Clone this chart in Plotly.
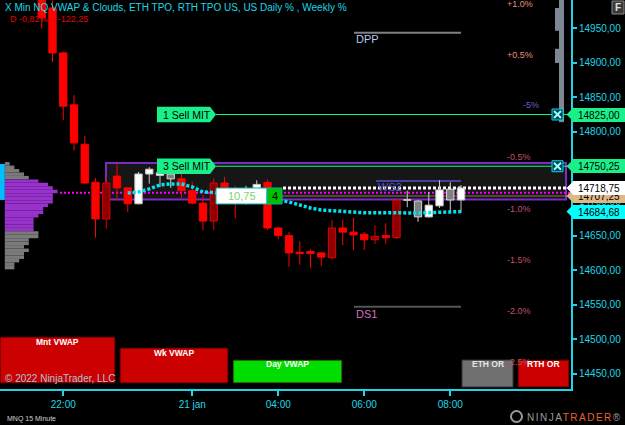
import plotly.graph_objects as go

# ---------------- data ----------------
bar_index = list(range(40))
bar_open = [15000, 14979, 14914, 14839, 14782, 14727, 14674, 14736, 14719, 14696,
            14739, 14737, 14739, 14732, 14715, 14697, 14671, 14726, 14716, 14700,
            14718, 14727, 14661, 14650, 14626, 14627, 14625, 14618, 14661, 14655,
            14652, 14644, 14650, 14647, 14701, 14700, 14677, 14693, 14717, 14701.5]
bar_high = [15005, 14990, 14916, 14853, 14794, 14733, 14734, 14753, 14720, 14742,
            14749, 14750, 14741, 14741, 14728, 14709, 14733, 14735, 14722, 14722,
            14730, 14731, 14663, 14655, 14642, 14630, 14626, 14673, 14673, 14676,
            14655, 14665, 14668, 14703, 14715, 14701, 14713, 14730, 14727, 14723]
bar_low = [14949, 14901, 14817, 14773, 14724, 14647, 14660, 14701, 14684, 14695,
           14725, 14720, 14719, 14704, 14695, 14658, 14658, 14712, 14675, 14695,
           14708, 14658, 14645, 14605, 14608, 14603, 14606, 14615, 14636, 14629,
           14629, 14638, 14638, 14645, 14691, 14670, 14676, 14690, 14683, 14683]
bar_close = [14965, 14914, 14837, 14784, 14726, 14674, 14726, 14719, 14696, 14739,
             14746, 14741, 14732, 14715, 14697, 14671, 14726, 14716, 14700, 14718,
             14724, 14661, 14650, 14625, 14624, 14624, 14619, 14661, 14655, 14651,
             14644, 14649, 14647, 14701, 14702, 14677, 14694, 14716, 14701.5, 14718.75]
bar_style = ["red"] * 6 + [
    "darkred", "red", "red", "white", "white", "white", "gray", "red", "red", "red",
    "darkred", "red", "red", "white", "white", "red", "red", "red", "red", "red",
    "red", "darkred", "red", "red", "red", "darkred", "red", "darkred", "white", "gray",
    "white", "white", "gray", "white"]

time_tick_index = [2, 14, 22, 30, 38]
time_tick_text = ["22:00", "21 jan", "04:00", "06:00", "08:00"]

price_ticks = [14450, 14500, 14550, 14600, 14650, 14700, 14750, 14800, 14850, 14900, 14950]
price_tick_text = ["14450,00", "14500,00", "14550,00", "14600,00", "14650,00", "14700,00",
                   "14750,00", "14800,00", "14850,00", "14900,00", "14950,00"]

vwap_index = list(range(8, 40))
vwap_value = [14711.6, 14713.0, 14717.4, 14723.2, 14724.6, 14724.6, 14720.3, 14713.0,
              14712.3, 14710.2, 14708.0, 14705.8, 14704.4, 14702.9, 14701.5, 14698.6,
              14694.3, 14689.9, 14687.0, 14685.6, 14684.3, 14684.0, 14683.0, 14682.7,
              14682.5, 14682.5, 14682.6, 14682.8, 14683.2, 14683.8, 14684.3, 14684.7]

# ETH TPO profile (rows of 5 points, from the top)
profile_top = 14756.25
profile_row = 5.0
profile_count = [1, 2, 3, 4, 5, 7, 9, 10, 11, 10, 10, 10, 9, 8, 8, 7, 6, 6, 6, 6,
                 7, 7, 5, 5, 4, 5, 4, 4, 3, 2, 2]
profile_in_va = [False] * 5 + [True] * 15 + [False] * 11
ib_low, ib_high = 14701.5, 14753.5

va_high, va_low = 14755.0, 14702.0
poc_price = 14712.0
last_price = 14718.75
avg_price = 14707.25
vwap_last = 14684.68
sell_mit_1 = 14825.00
sell_mit_3 = 14750.25
pnl_text, qty_text = "10,75", "4"

daily_pct_text = ["+1.0%", "+0.5%", "-0.5%", "-1.0%", "-1.5%", "-2.0%", "-2.5%"]
daily_pct_price = [14984.7, 14911.0, 14763.6, 14688.5, 14614.8, 14541.1, 14467.4]
weekly_pct_text = ["-5%"]
weekly_pct_price = [14838.8]

pivot_name = ["DPP", "DS1", "WS2"]
pivot_price = [14943.0, 14547.0, 14729.0]
pivot_text_price = [14934.0, 14537.0, 14720.0]

weekly_bar_main = (14814.0, 14990.5)
weekly_bar_small = [(14946.0, 14979.0), (14899.5, 14920.0)]

# ---------------- geometry helpers ----------------
W, H = 625, 425
PW, PH = 571, 389
Y_TOP, Y_BOT = 14990.5, 14428.3
PT = PH / (Y_TOP - Y_BOT)       # px per point
BAR_PX = 10.75
X0_PX = 41.75
x_lo = -X0_PX / BAR_PX
x_hi = (PW - X0_PX) / BAR_PX


def px(x):
    return x / PW


def py(y):
    return 1 - y / PH


CYAN = "#1fd6e6"
FONT = "Liberation Sans, Arial, sans-serif"

fig = go.Figure()

# profile
row_price = [profile_top - profile_row * (k + 0.5) for k in range(len(profile_count))]
fig.add_trace(go.Bar(orientation="h", x=profile_count, y=row_price, base=1, width=profile_row,
                     marker=dict(color=["#9932cc" if v else "#7a7a7a" for v in profile_in_va],
                                 line=dict(width=0)),
                     xaxis="x2", yaxis="y", hoverinfo="skip", showlegend=False))
fig.add_trace(go.Bar(orientation="h", x=[1], y=[(ib_low + ib_high) / 2], base=0,
                     width=ib_high - ib_low, marker=dict(color="#00bfff", line=dict(width=0)),
                     xaxis="x2", yaxis="y", hoverinfo="skip", showlegend=False))

# candles: wicks (scatter segments) + bodies (bars)
style_colors = {
    "red": ("#ff0000", "#ff0000"),
    "darkred": ("#8b0000", "#e00000"),
    "white": ("#ffffff", "#c8c8c8"),
    "gray": ("#808080", "#d8d8d8"),
}
for st, (fill, line) in style_colors.items():
    wx, wy = [], []
    for i, s in enumerate(bar_style):
        if s != st:
            continue
        top = max(bar_open[i], bar_close[i])
        bot = min(bar_open[i], bar_close[i])
        wx += [bar_index[i], bar_index[i], None, bar_index[i], bar_index[i], None]
        wy += [bar_high[i], top, None, bot, bar_low[i], None]
    fig.add_trace(go.Scatter(x=wx, y=wy, mode="lines", line=dict(color=line, width=1),
                             hoverinfo="skip", showlegend=False))

body_base = [min(o, c) for o, c in zip(bar_open, bar_close)]
body_len = [abs(c - o) for o, c in zip(bar_open, bar_close)]
fig.add_trace(go.Bar(x=bar_index, y=body_len, base=body_base, width=0.68,
                     marker=dict(color=[style_colors[s][0] for s in bar_style],
                                 line=dict(color=[style_colors[s][1] for s in bar_style], width=1)),
                     hoverinfo="skip", showlegend=False))

# vwap
fig.add_trace(go.Scatter(x=vwap_index, y=vwap_value, mode="lines",
                         line=dict(color="#00e5ee", width=3.5, dash="3px,2px"),
                         hoverinfo="skip", showlegend=False))

shapes = []
ann = []


def text(x, y, t, color, size, xref="paper", yref="paper", xa="left", ya="middle", **kw):
    d = dict(xref=xref, yref=yref, x=x, y=y, text=t, showarrow=False, xanchor=xa, yanchor=ya,
             font=dict(color=color, size=size, family=FONT))
    d.update(kw)
    ann.append(d)


# value area box
shapes.append(dict(type="rect", xref="paper", yref="y", x0=px(106), x1=px(566), y0=va_low, y1=va_high,
                   fillcolor="#161616", line=dict(color="#7b2cc4", width=2), layer="below"))
shapes.append(dict(type="line", xref="paper", yref="y", x0=px(282), x1=1, y0=avg_price, y1=avg_price,
                   line=dict(color="#8b7b55", width=1), layer="below"))
shapes.append(dict(type="line", xref="paper", yref="y", x0=px(60), x1=1, y0=poc_price, y1=poc_price,
                   line=dict(color="#ff00ff", width=2, dash="2px,2px"), layer="below"))
shapes.append(dict(type="line", xref="paper", yref="y", x0=px(283), x1=1, y0=last_price, y1=last_price,
                   line=dict(color="#ffffff", width=3, dash="3px,2px"), layer="below"))
for p in (sell_mit_1, sell_mit_3):
    shapes.append(dict(type="line", xref="paper", yref="y", x0=px(216), x1=1, y0=p, y1=p,
                       line=dict(color="#00ff7f", width=1), layer="below"))

# pivots
piv_x = [(354, 461), (354, 461), (376, 461)]
piv_line_col = ["#808080", "#555555", "#4b3f9e"]
piv_text_col = ["#b8c8f0", "#d870c0", "#5050d0"]
for name, p, tp, (a, b), lc, tc in zip(pivot_name, pivot_price, pivot_text_price, piv_x, piv_line_col, piv_text_col):
    shapes.append(dict(type="line", xref="paper", yref="y", x0=px(a), x1=px(b), y0=p, y1=p,
                       line=dict(color=lc, width=2), layer="below"))
    text(px(a), tp, name, tc, 11, yref="y")

# weekly gray bars at the right
shapes.append(dict(type="rect", xref="paper", yref="y", x0=px(559), x1=px(564),
                   y0=weekly_bar_main[0], y1=weekly_bar_main[1], fillcolor="#7d8893",
                   line=dict(width=0), layer="below"))
for lo, hi in weekly_bar_small:
    shapes.append(dict(type="rect", xref="paper", yref="y", x0=px(555), x1=px(559), y0=lo, y1=hi,
                       fillcolor="#7d8893", line=dict(width=0), layer="below"))

# sell MIT labels
h = 7.7 / PT
for p, t in ((sell_mit_1, "1 Sell MIT"), (sell_mit_3, "3 Sell MIT")):
    path = (f"M {px(157)},{p + h} L {px(210)},{p + h} L {px(216)},{p} "
            f"L {px(210)},{p - h} L {px(157)},{p - h} Z")
    shapes.append(dict(type="path", xref="paper", yref="y", path=path, fillcolor="#19f08a",
                       line=dict(width=0)))
    text(px(161), p, t, "#000000", 10.5, yref="y")

# X icons
for p in (sell_mit_1, sell_mit_3):
    hh = 5.5 / PT
    shapes.append(dict(type="rect", xref="paper", yref="y", x0=px(552), x1=px(563), y0=p - hh, y1=p + hh,
                       fillcolor="#004450", line=dict(color="#00d8e8", width=1)))
    d = 3.5 / PT
    shapes.append(dict(type="line", xref="paper", yref="y", x0=px(554), x1=px(561), y0=p - d, y1=p + d,
                       line=dict(color="#a0ffff", width=2)))
    shapes.append(dict(type="line", xref="paper", yref="y", x0=px(554), x1=px(561), y0=p + d, y1=p - d,
                       line=dict(color="#a0ffff", width=2)))

# PnL label on average price
hp = 8 / PT
shapes.append(dict(type="rect", xref="paper", yref="y", x0=px(216), x1=px(267), y0=avg_price - hp,
                   y1=avg_price + hp, fillcolor="#ffffff", line=dict(color="#00b0b0", width=1)))
shapes.append(dict(type="rect", xref="paper", yref="y", x0=px(267), x1=px(282), y0=avg_price - hp,
                   y1=avg_price + hp, fillcolor="#00c000", line=dict(color="#00b0b0", width=1)))
text(px(241.5), avg_price, pnl_text, "#80d070", 11, yref="y", xa="center")
text(px(274.5), avg_price, qty_text, "#000000", 11, yref="y", xa="center")

# percent labels
for t, p in zip(daily_pct_text, daily_pct_price):
    col = "#e6907a" if t.startswith("+") else "#c0506a"
    text(px(505), p, t, col, 9, yref="y")
for t, p in zip(weekly_pct_text, weekly_pct_price):
    text(px(521), p, t, "#6060d0", 9, yref="y")

# right axis price markers
markers = [(avg_price, "#deb887", "14707,25"), (last_price, "#ffffff", "14718,75"),
           (vwap_last, "#00ffff", "14684,68"), (sell_mit_1, "#19f08a", "14825,00"),
           (sell_mit_3, "#19f08a", "14750,25")]
hm = 7 / PT
for p, col, t in markers:
    shapes.append(dict(type="path", xref="paper", yref="y",
                       path=f"M {px(566.5)},{p} L {px(573.5)},{p + hm} L {px(573.5)},{p - hm} Z",
                       fillcolor=col, line=dict(width=0)))
    text(px(573), p, t, "#000000", 10, yref="y", width=52, height=14, bgcolor=col,
         borderpad=0, borderwidth=0, align="center")

# bottom boxes
boxes = [((0, 115), (337, 383), "#cc0000", "Mnt VWAP", 342, "#ffffff"),
         ((120, 228), (348, 383), "#cc0000", "Wk VWAP", 353, "#ffffff"),
         ((233, 342), (360, 383), "#00dd00", "Day VWAP", 364, "#ffffff"),
         ((462, 513), (360, 387), "#707070", "ETH OR", 364, "#e6e6e6"),
         ((518, 569), (360, 387), "#cc0000", "RTH OR", 364, "#ffffff")]
for (x0, x1), (y0, y1), col, t, ty, tc in boxes:
    shapes.append(dict(type="rect", xref="paper", yref="paper", x0=px(x0), x1=px(x1), y0=py(y1), y1=py(y0),
                       fillcolor=col, line=dict(color="#3a0000" if col != "#707070" else "#333333", width=1)))
    text(px((x0 + x1) / 2), py(ty), f"<b>{t}</b>", tc, 8.5, xa="center")

# F button
shapes.append(dict(type="rect", xref="paper", yref="paper", x0=px(612), x1=px(624), y0=py(14), y1=py(1),
                   fillcolor="#3a3a3a", line=dict(color="#8a8a8a", width=1)))
text(px(618), py(7.5), "<b>F</b>", "#e0e0e0", 10, xa="center")

# logo ring
shapes.append(dict(type="circle", xref="paper", yref="paper", x0=px(511), x1=px(522), y0=py(422), y1=py(411),
                   line=dict(color="#9a9a9a", width=2)))

# texts
text(px(3), py(8), "X Min NQ VWAP & Clouds, ETH TPO, RTH TPO US, US Daily % , Weekly %", "#1ad8e6", 10)
text(px(8), py(19), "D -0,82% = -122,25", "#e00000", 9)
text(px(3), py(378), "© 2022 NinjaTrader, LLC", "#a8c4d4", 10)
text(px(5), py(419), "MNQ 15 Minute", "#d0d0d0", 7)
text(px(525), py(417),
     '<span style="letter-spacing:1.5px"><span style="color:#9a9a9a">NINJA</span>'
     '<span style="color:#e8602c">TRADER</span></span>'
     '<span style="color:#9a9a9a">®</span>', "#9a9a9a", 10)

fig.update_layout(
    width=W, height=H, margin=dict(l=0, r=W - PW, t=0, b=H - PH),
    paper_bgcolor="#000000", plot_bgcolor="#000000", showlegend=False,
    barmode="overlay", hovermode=False,
    font=dict(family=FONT, color=CYAN),
    xaxis=dict(range=[x_lo, x_hi], tickvals=time_tick_index, ticktext=time_tick_text,
               showgrid=False, zeroline=False, showline=True, linecolor=CYAN, linewidth=2,
               ticks="outside", ticklen=5, tickwidth=2, tickcolor=CYAN,
               tickfont=dict(color=CYAN, size=10, family=FONT), fixedrange=True),
    xaxis2=dict(overlaying="x", range=[0, PW / 4.8], visible=False, fixedrange=True),
    yaxis=dict(side="right", range=[Y_BOT, Y_TOP], tickvals=price_ticks, ticktext=price_tick_text,
               showgrid=False, zeroline=False, showline=True, linecolor=CYAN, linewidth=2,
               ticks="outside", ticklen=4, tickwidth=2, tickcolor=CYAN,
               tickfont=dict(color=CYAN, size=10, family=FONT), fixedrange=True),
    shapes=shapes, annotations=ann,
)

fig.write_html("out.html")
